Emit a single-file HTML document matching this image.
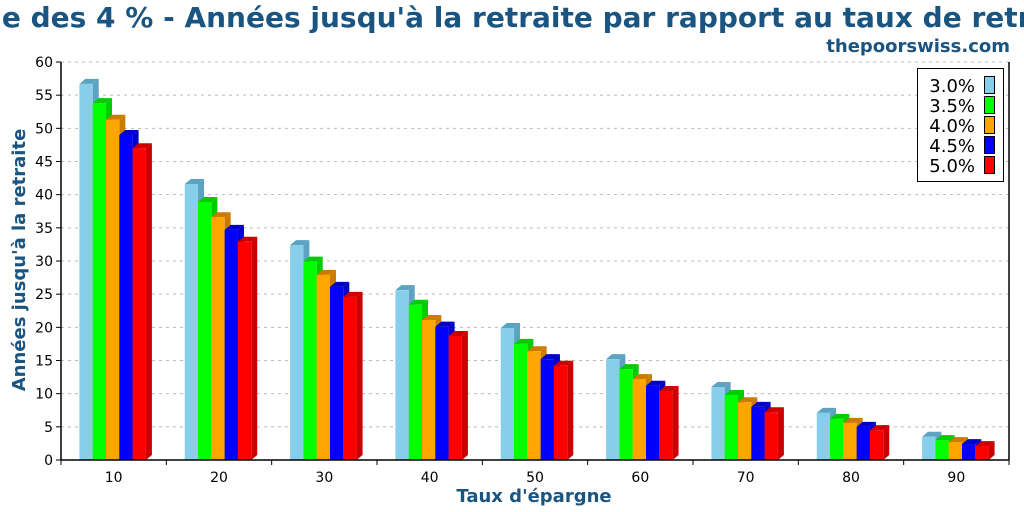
<!DOCTYPE html>
<html><head><meta charset="utf-8"><style>
html,body{margin:0;padding:0;background:#fff;}
svg{display:block;font-family:"DejaVu Sans","Liberation Sans",sans-serif;}
</style></head><body>
<svg id="chart" width="1024" height="512" viewBox="0 0 1024 512" xmlns="http://www.w3.org/2000/svg">
<text x="512" y="27" text-anchor="middle" font-size="28" font-weight="bold" fill="#1a5480">Règle des 4 % - Années jusqu'à la retraite par rapport au taux de retraite</text>
<text x="1010" y="52" text-anchor="end" font-size="18" font-weight="bold" fill="#1a5480">thepoorswiss.com</text>
<g id="grid"></g>
<g id="bars"></g>
<g id="axes"></g>
<text transform="translate(25,260) rotate(-90)" text-anchor="middle" font-size="18" font-weight="bold" fill="#1a5480">Années jusqu'à la retraite</text>
<text x="534" y="502" text-anchor="middle" font-size="18" font-weight="bold" fill="#1a5480">Taux d'épargne</text>
<g id="legend"></g>
</svg>
<script>
const categories = ["10","20","30","40","50","60","70","80","90"];
const seriesNames = ["3.0%","3.5%","4.0%","4.5%","5.0%"];
const s30 = [56.7,41.6,32.4,25.6,19.9,15.2,11.0,7.1,3.5];
const s35 = [53.8,38.9,29.9,23.4,17.5,13.7,9.8,6.2,3.0];
const s40 = [51.3,36.6,27.9,21.1,16.4,12.2,8.7,5.6,2.7];
const s45 = [49.0,34.7,26.1,20.1,15.2,11.2,8.0,5.0,2.4];
const s50 = [47.0,32.9,24.6,18.7,14.2,10.4,7.2,4.5,2.1];
const yTicks = [0,5,10,15,20,25,30,35,40,45,50,55,60];

const series = [s30,s35,s40,s45,s50];
const front = ["#87ceeb","#00ff00","#ffa500","#0000ff","#ff0000"];
const side = ["#5ba3c0","#00cc00","#cc7a00","#0000cc","#cc0000"];
const NS = "http://www.w3.org/2000/svg";
const X0 = 61, X1 = 1009, Y0 = 460, Y1 = 62;
const yMax = 60;
const y = v => Y0 - v / yMax * (Y0 - Y1);
const bandW = (X1 - X0) / categories.length;
const xc = i => X0 + bandW * (i + 0.5);
const barW = 13.3, dx = 6, dy = 5;
function mk(tag, attrs, parent){const e=document.createElementNS(NS,tag);for(const k in attrs)e.setAttribute(k,attrs[k]);parent.appendChild(e);return e;}
const grid=document.getElementById('grid'), bars=document.getElementById('bars'), axes=document.getElementById('axes'), legend=document.getElementById('legend');
yTicks.forEach(t=>{
  if(t>0){const l=mk('line',{x1:X0,x2:X1,y1:y(t),y2:y(t),stroke:'#bbb','stroke-dasharray':'3,4','stroke-width':1},grid);
  
  }
  const tk=mk('line',{x1:X0-5,x2:X0,y1:y(t),y2:y(t),stroke:'#000'},axes);
  
  
  const tx=mk('text',{x:X0-8,y:y(t)+5,'text-anchor':'end','font-size':14,fill:'#000'},axes);
  tx.textContent=t;
  
  
});
categories.forEach((c,i)=>{
  const start = xc(i) - barW*series.length/2 - 1;
  series.forEach((s,j)=>{
    const x = start + j*barW, top = y(s[i]);
    const g=mk('g',{},bars);
    
    
    mk('polygon',{points:`${x+barW},${top} ${x+barW+dx},${top-dy} ${x+barW+dx},${Y0-dy} ${x+barW},${Y0}`,fill:side[j]},g);
    mk('polygon',{points:`${x},${top} ${x+dx},${top-dy} ${x+barW+dx},${top-dy} ${x+barW},${top}`,fill:side[j]},g);
    mk('rect',{x:x,y:top,width:barW,height:Y0-top,fill:front[j]},g);
  });
  const tx=mk('text',{x:xc(i),y:482,'text-anchor':'middle','font-size':14,fill:'#000'},axes);
  tx.textContent=c;
  
  
});
for(let i=0;i<=categories.length;i++){
  const xx=X0+bandW*i;
  const tk=mk('line',{x1:xx,x2:xx,y1:Y0,y2:Y0+5,stroke:'#000'},axes);
  
  
}
const ax=mk('line',{x1:X0,x2:X0,y1:Y1,y2:Y0,stroke:'#000','stroke-width':1.5},axes);


const ax2=mk('line',{x1:X1,x2:X1,y1:Y1,y2:Y0,stroke:'#000','stroke-width':1.5},axes);


const ax3=mk('line',{x1:X0,x2:X1,y1:Y0,y2:Y0,stroke:'#000','stroke-width':1.5},axes);


const lb=mk('rect',{x:917.5,y:68.5,width:86,height:113,fill:'#fff',stroke:'#000'},legend);


seriesNames.forEach((n,j)=>{
  const g=mk('g',{},legend);
  
  
  const t=mk('text',{x:975,y:92+j*20,'text-anchor':'end','font-size':18,fill:'#000'},g);
  t.textContent=n;
  mk('rect',{x:984.5,y:76.5+j*20,width:10,height:17,fill:front[j],stroke:'#000'},g);
});
</script>
</body></html>
